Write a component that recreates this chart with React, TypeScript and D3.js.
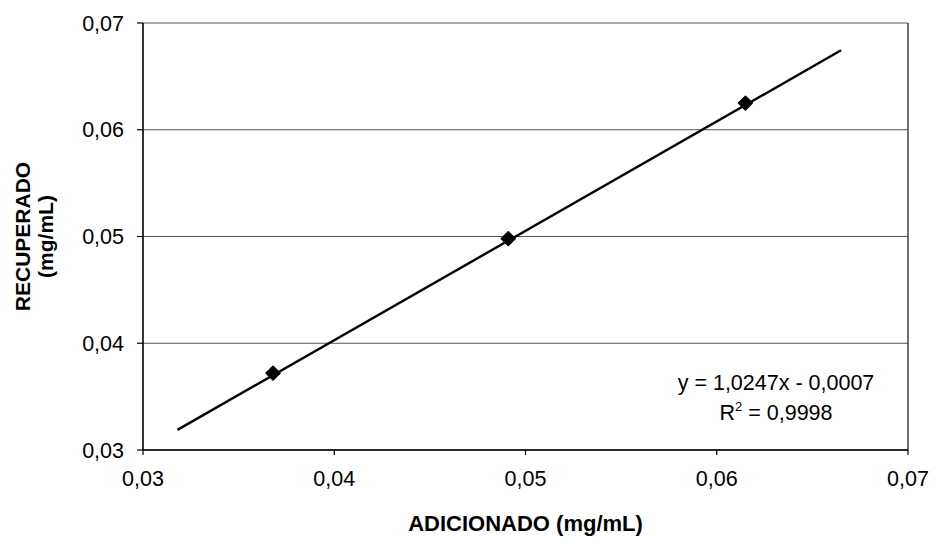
import React from "react";
import * as d3 from "d3";

const addedX = [0.0368, 0.0491, 0.0615];
const recoveredY = [0.0372, 0.0498, 0.0625];
const xTicks = [0.03, 0.04, 0.05, 0.06, 0.07];
const yTicks = [0.03, 0.04, 0.05, 0.06, 0.07];
const slope = 1.0247;
const intercept = -0.0007;
const trendRange = [0.0318, 0.0665];
const equationLines = ["y = 1,0247x - 0,0007", "R", " = 0,9998"];

const W = 935;
const H = 541;
const M = { left: 143, right: 908, top: 23, bottom: 450 };

export default function App() {
  const x = d3.scaleLinear().domain([0.03, 0.07]).range([M.left, M.right]);
  const y = d3.scaleLinear().domain([0.03, 0.07]).range([M.bottom, M.top]);
  const fmt = (v: number) => v.toFixed(2).replace(".", ",");
  const line = d3
    .line<number>()
    .x((d) => x(d))
    .y((d) => y(slope * d + intercept));
  const marker = d3.symbol().type(d3.symbolSquare).size(95)();
  const font = "'Liberation Sans', Arial, sans-serif";
  const fs = 21.5;
  const ft = 21;

  return (
    <svg width={W} height={H} style={{ position: "absolute", left: 0, top: 0 }} fontFamily={font}>
      <rect x={0} y={0} width={W} height={H} fill="#fff" />
      {yTicks.map((t) => (
        <line key={"g" + t} x1={M.left} x2={M.right} y1={y(t)} y2={y(t)} stroke="#555" strokeWidth={1.2} />
      ))}
      <line x1={M.right} x2={M.right} y1={M.top} y2={M.bottom} stroke="#333" strokeWidth={1.4} />
      <line x1={M.left} x2={M.left} y1={M.top} y2={M.bottom} stroke="#000" strokeWidth={1.6} />
      <line x1={M.left} x2={M.right} y1={M.bottom} y2={M.bottom} stroke="#000" strokeWidth={1.6} />
      {yTicks.map((t) => (
        <g key={"y" + t}>
          <line x1={M.left - 6} x2={M.left} y1={y(t)} y2={y(t)} stroke="#000" strokeWidth={1.2} />
          <text x={M.left - 19} y={y(t)} dy="0.35em" textAnchor="end" fontSize={fs}>
            {fmt(t)}
          </text>
        </g>
      ))}
      {xTicks.map((t) => (
        <g key={"x" + t}>
          <line x1={x(t)} x2={x(t)} y1={M.bottom} y2={M.bottom + 5} stroke="#000" strokeWidth={1.2} />
          <text x={x(t)} y={M.bottom + 36} textAnchor="middle" fontSize={fs}>
            {fmt(t)}
          </text>
        </g>
      ))}
      <path d={line(trendRange) || ""} stroke="#000" strokeWidth={2.4} fill="none" />
      {addedX.map((v, i) => (
        <path
          key={"p" + i}
          d={marker || ""}
          transform={`translate(${x(v)},${y(recoveredY[i])}) rotate(45)`}
          fill="#000"
          stroke="#000"
          strokeWidth={1.5}
          strokeLinejoin="round"
        />
      ))}
      <text x={776} y={390} textAnchor="middle" fontSize={fs}>
        {equationLines[0]}
      </text>
      <text x={776} y={420} textAnchor="middle" fontSize={fs}>
        {equationLines[1]}
        <tspan dy={-9} fontSize={13}>2</tspan>
        <tspan dy={9}>{equationLines[2]}</tspan>
      </text>
      <text x={(M.left + M.right) / 2} y={531} textAnchor="middle" fontSize={22} fontWeight="bold">
        ADICIONADO (mg/mL)
      </text>
      <g transform={`translate(30, ${(M.top + M.bottom) / 2}) rotate(-90)`}>
        <text x={0} y={0} textAnchor="middle" fontSize={ft} fontWeight="bold">
          RECUPERADO
        </text>
        <text x={0} y={23} textAnchor="middle" fontSize={ft} fontWeight="bold">
          (mg/mL)
        </text>
      </g>
    </svg>
  );
}
